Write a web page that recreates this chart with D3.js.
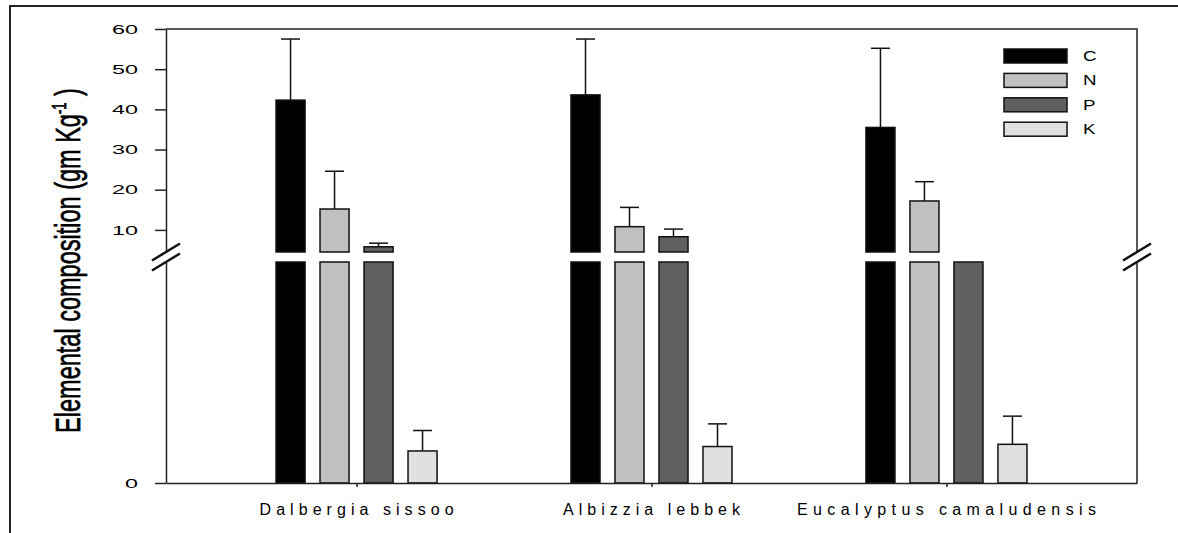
<!DOCTYPE html>
<html>
<head>
<meta charset="utf-8">
<script src="https://cdn.jsdelivr.net/npm/d3@7"></script>
<style>
  body { margin: 0; background: #fff; }
  svg { display: block; }
  text { font-family: "Liberation Sans", Arial, sans-serif; fill: #000; }
</style>
</head>
<body>
<svg id="chart"></svg>
<script>
// species on the x axis and the four elements (series)
const species = ['Dalbergia sissoo', 'Albizzia lebbek', 'Eucalyptus camaludensis'];
const elements = ['C', 'N', 'P', 'K'];

// means and upper error (SD) per species, gm Kg-1
const cValues = [42.3, 43.6, 35.5];
const cErrors = [15.2, 13.9, 19.7];
const nValues = [15.2, 10.8, 17.2];
const nErrors = [9.4, 4.8, 4.8];
const pValues = [5.8, 8.3, 4.2];
const pErrors = [0.9, 1.9, 0];
const kValues = [0.58, 0.66, 0.70];
const kErrors = [0.37, 0.41, 0.51];

const upperTicks = [10, 20, 30, 40, 50, 60];
const lowerTicks = [0];

const fills = {C: '#000000', N: '#c0c0c0', P: '#606060', K: '#e0e0e0'};

const valuesBy = {C: cValues, N: nValues, P: pValues, K: kValues};
const errorsBy = {C: cErrors, N: nErrors, P: pErrors, K: kErrors};

let rows = [];
species.forEach((s, i) => {
  elements.forEach(e => {
    rows.push({species: s, element: e, value: valuesBy[e][i], err: errorsBy[e][i]});
  });
});

let svg = d3.select('#chart')
    .attr('width', 1178)
    .attr('height', 533),
  plot = {left: 166, right: 1137, top: 29, bottom: 483, upperBottom: 252, lowerTop: 262};

// outer frame (only left and top edges show)
svg.append('path')
  .attr('d', 'M10,533 L10,6 L1178,6')
  .attr('fill', 'none')
  .attr('stroke', '#222')
  .attr('stroke-width', 2);

// scales: one x for groups, one inside each group, two y for the broken axis
let x = d3.scalePoint()
  .domain(species)
  .range([plot.left, plot.right])
  .padding(0.646);

let xInner = d3.scaleBand()
  .domain(elements)
  .range([-88, 88])
  .paddingInner(0.34)
  .paddingOuter(0.17);

let yUpper = d3.scaleLinear()
  .domain([4.5, 60])
  .range([plot.upperBottom, plot.top]);

let yLower = d3.scaleLinear()
  .domain([0, 4])
  .range([plot.bottom, plot.lowerTop]);

const upMin = yUpper.domain()[0], lowMax = yLower.domain()[1];

// bars
let bars = svg.append('g').attr('class', 'bars');

bars.selectAll('.lower')
  .data(rows)
  .enter().append('rect')
  .attr('class', 'lower')
  .attr('x', d => x(d.species) + xInner(d.element))
  .attr('width', xInner.bandwidth())
  .attr('y', d => yLower(Math.min(d.value, lowMax)))
  .attr('height', d => yLower(0) - yLower(Math.min(d.value, lowMax)))
  .attr('fill', d => fills[d.element])
  .attr('stroke', '#111')
  .attr('stroke-width', 1.5);

bars.selectAll('.upper')
  .data(rows.filter(d => d.value > upMin))
  .enter().append('rect')
  .attr('class', 'upper')
  .attr('x', d => x(d.species) + xInner(d.element))
  .attr('width', xInner.bandwidth())
  .attr('y', d => yUpper(d.value))
  .attr('height', d => yUpper(upMin) - yUpper(d.value))
  .attr('fill', d => fills[d.element])
  .attr('stroke', '#111')
  .attr('stroke-width', 1.5);

// error bars (upper side only)
let errs = svg.append('g').attr('class', 'errors')
  .selectAll('g')
  .data(rows.filter(d => d.err > 0))
  .enter().append('g');

function yOf(d, v) {
  return d.value > upMin ? yUpper(v) : yLower(v);
}

function xMid(d) {
  return x(d.species) + xInner(d.element) + xInner.bandwidth() / 2;
}

errs.append('line')
  .attr('x1', xMid)
  .attr('x2', xMid)
  .attr('y1', d => yOf(d, d.value))
  .attr('y2', d => yOf(d, d.value + d.err))
  .attr('stroke', '#111')
  .attr('stroke-width', 1.5);

errs.append('line')
  .attr('x1', d => xMid(d) - 9.5)
  .attr('x2', d => xMid(d) + 9.5)
  .attr('y1', d => yOf(d, d.value + d.err))
  .attr('y2', d => yOf(d, d.value + d.err))
  .attr('stroke', '#111')
  .attr('stroke-width', 1.5);

// axes
const tickScale = 1.8;

function styleY(g) {
  g.select('.domain').attr('stroke', '#222').attr('stroke-width', 1.5);
  g.selectAll('.tick line').attr('stroke', '#222').attr('stroke-width', 1.5);
  g.selectAll('.tick text')
    .attr('font-size', '13px')
    .attr('font-family', '"Liberation Sans", Arial, sans-serif')
    .attr('fill', '#111')
    .attr('x', -28 / tickScale)
    .attr('transform', 'scale(' + tickScale + ',1)');
}

svg.append('g')
  .attr('class', 'axis yupper')
  .attr('transform', 'translate(' + plot.left + ',0)')
  .call(d3.axisLeft(yUpper).tickValues(upperTicks).tickFormat(d3.format('d')).tickSize(11).tickSizeOuter(0))
  .call(styleY);

svg.append('g')
  .attr('class', 'axis ylower')
  .attr('transform', 'translate(' + plot.left + ',0)')
  .call(d3.axisLeft(yLower).tickValues(lowerTicks).tickFormat(d3.format('d')).tickSize(11).tickSizeOuter(0))
  .call(styleY);

let xAxis = svg.append('g')
  .attr('class', 'axis xaxis')
  .attr('transform', 'translate(0,' + plot.bottom + ')')
  .call(d3.axisBottom(x).tickSize(4).tickSizeOuter(0).tickFormat(''));
xAxis.select('.domain').attr('stroke', '#222').attr('stroke-width', 1.5);
xAxis.selectAll('.tick line').attr('stroke', '#222').attr('stroke-width', 1.5);

// top and right frame of the plot, broken on the right too
svg.append('path')
  .attr('d', 'M' + plot.left + ',' + plot.top + ' L' + plot.right + ',' + plot.top +
    ' L' + plot.right + ',' + plot.upperBottom +
    ' M' + plot.right + ',' + plot.lowerTop + ' L' + plot.right + ',' + plot.bottom)
  .attr('fill', 'none')
  .attr('stroke', '#222')
  .attr('stroke-width', 1.5);

// break marks
[plot.left, plot.right].forEach(ax => {
  [plot.upperBottom, plot.lowerTop].forEach(yb => {
    svg.append('line')
      .attr('x1', ax - 14).attr('y1', yb + 8.5)
      .attr('x2', ax + 14).attr('y2', yb - 8.5)
      .attr('stroke', '#111')
      .attr('stroke-width', 2.5);
  });
});

// category labels, spread out like the original
const labelWidths = [194, 177, 299];
svg.append('g')
  .attr('class', 'xlabels')
  .selectAll('text')
  .data(species)
  .enter().append('text')
  .attr('x', d => x(d))
  .attr('y', 515)
  .attr('text-anchor', 'middle')
  .attr('font-size', '16px')
  .attr('textLength', (d, i) => labelWidths[i])
  .attr('lengthAdjust', 'spacing')
  .text(d => d);

// y axis title: narrow, tall lettering, squeezed to the original length
let title = svg.append('text')
  .attr('text-anchor', 'middle')
  .attr('font-size', '36px')
  .attr('stroke', '#000')
  .attr('stroke-width', 0.7);
title.append('tspan').text('Elemental composition  (gm Kg');
title.append('tspan').attr('font-size', '20px').attr('dy', -14).text('-1');
title.append('tspan').attr('dy', 14).text(' )');
let natural = title.node().getComputedTextLength();
title.attr('transform', 'translate(80,260.5) rotate(-90) scale(' + (345 / natural) + ',1)');

// legend
let legend = svg.append('g')
  .attr('class', 'legend')
  .attr('transform', 'translate(1004,49)');

let item = legend.selectAll('g')
  .data(elements)
  .enter().append('g')
  .attr('transform', (d, i) => 'translate(0,' + (i * 24.4) + ')');

item.append('rect')
  .attr('width', 63)
  .attr('height', 14)
  .attr('fill', d => fills[d])
  .attr('stroke', '#111')
  .attr('stroke-width', 1.5);

item.append('text')
  .attr('transform', 'translate(79,12) scale(1.25,1)')
  .attr('font-size', '15px')
  .text(d => d);
</script>
</body>
</html>
